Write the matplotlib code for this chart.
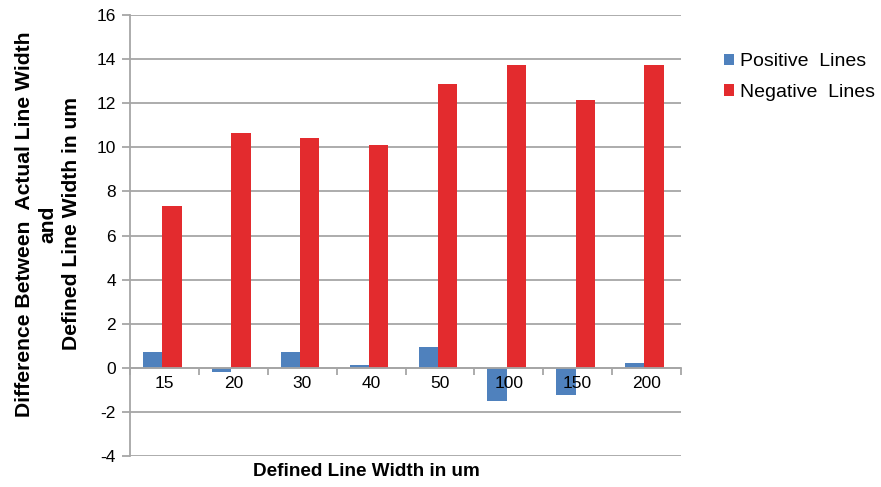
import matplotlib
matplotlib.use("Agg")
import matplotlib.pyplot as plt
import numpy as np

plt.rcParams['font.family'] = ['Liberation Sans', 'DejaVu Sans']

categories = ["15", "20", "30", "40", "50", "100", "150", "200"]
positive = [0.7, -0.2, 0.7, 0.12, 0.95, -1.5, -1.25, 0.22]
negative = [7.35, 10.65, 10.42, 10.1, 12.88, 13.74, 12.15, 13.75]
series_names = ["Positive  Lines", "Negative  Lines"]
yticks = [-4, -2, 0, 2, 4, 6, 8, 10, 12, 14, 16]

W, H = 881, 487
fig = plt.figure(figsize=(W/100, H/100), dpi=100)
ax = fig.add_axes([130/W, 1-456/H, (681-130)/W, (456-15)/H])
ax.set_axisbelow(False)

x = np.arange(len(categories))
bw = 0.28
blue = "#4F81BD"
red = "#E32B2E"
grid = "#a6a6a6"
ax.bar(x - bw/2 - 0.03, positive, bw, color=blue, label=series_names[0], zorder=2)
ax.bar(x + bw/2 - 0.03, negative, bw, color=red, label=series_names[1], zorder=2)

ax.set_xlim(-0.5, len(categories) - 0.5)
ax.set_ylim(-4, 16)
ax.set_yticks(yticks)
ax.set_yticklabels([str(v) for v in yticks], fontsize=12.5)
for v in yticks:
    ax.axhline(v, color=grid, lw=1.3, zorder=1)

for s in ["top", "right"]:
    ax.spines[s].set_visible(False)
ax.spines["left"].set_color(grid)
ax.spines["left"].set_linewidth(1.3)
ax.spines["bottom"].set_position(("data", 0))
ax.spines["bottom"].set_color(grid)
ax.spines["bottom"].set_linewidth(1.3)
ax.spines["bottom"].set_zorder(4)

ax.tick_params(axis="y", colors=grid, labelcolor="black", length=6, width=1.3, direction="out", pad=4)
ax.set_xticks(np.arange(len(categories) + 1) - 0.5)
ax.set_xticklabels([])
ax.tick_params(axis="x", which="major", colors=grid, length=5, width=1.3, direction="out")
ax.set_xticks(x, minor=True)
ax.set_xticklabels(categories, minor=True, fontsize=12.5)
ax.tick_params(axis="x", which="minor", length=0, pad=6, labelcolor="black")

fig.text(366/W, 1-471/H, "Defined Line Width in um", ha="center", va="center",
         fontsize=13.6, fontweight="bold")
fig.text(48/W, 1-224/H, "Difference Between  Actual Line Width\nand\nDefined Line Width in um",
         ha="center", va="center", rotation=90, fontsize=15.2, fontweight="bold",
         multialignment="center", linespacing=1.3)

ax.legend(loc="upper left", bbox_to_anchor=(706/W, 1-36/H), bbox_transform=fig.transFigure,
          frameon=False, fontsize=14, handlelength=0.55, handleheight=0.55,
          handletextpad=0.3, labelspacing=0.7)

fig.savefig("out.png", dpi=100)
